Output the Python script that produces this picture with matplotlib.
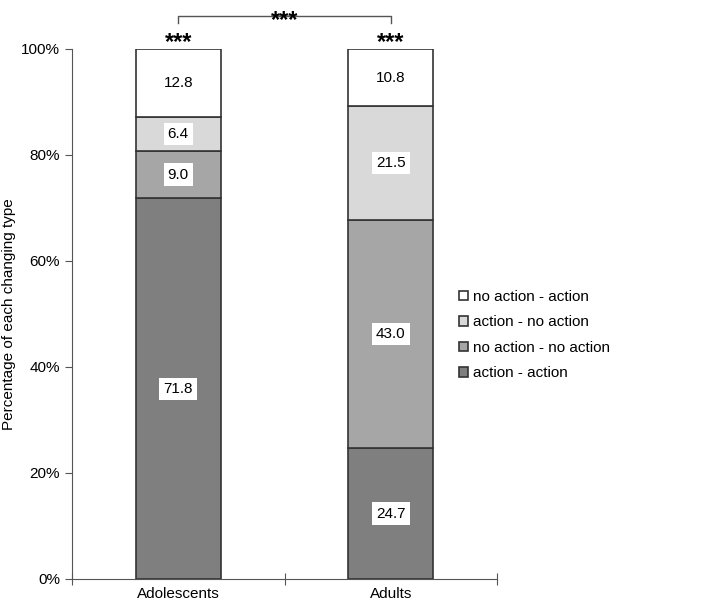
import matplotlib
matplotlib.use("Agg")
import matplotlib.pyplot as plt

groups = ["Adolescents", "Adults"]
series = ["action - action", "no action - no action", "action - no action", "no action - action"]
values = [
    [71.8, 24.7],
    [9.0, 43.0],
    [6.4, 21.5],
    [12.8, 10.8],
]
colors = ["#7f7f7f", "#a6a6a6", "#d9d9d9", "#ffffff"]

fig = plt.figure(figsize=(7.09, 6.04), dpi=100)
ax = fig.add_axes([0.1016, 0.0414, 0.5994, 0.8776])
plt.rcParams["font.family"] = "Liberation Sans"

x = list(range(len(groups)))
bottoms = [0.0] * len(groups)
handles = []
for name, vals, col in zip(series, values, colors):
    bars = ax.bar(x, vals, 0.4, bottom=bottoms, color=col, edgecolor="#333333", linewidth=1.2, label=name)
    handles.append(bars)
    for xi, b, v in zip(x, bottoms, vals):
        ax.text(xi, b + v / 2, f"{v:.1f}", ha="center", va="center", fontsize=11,
                family="Liberation Sans",
                bbox=dict(facecolor="white", edgecolor="none", pad=3))
    bottoms = [b + v for b, v in zip(bottoms, vals)]

ax.set_xlim(-0.5, 1.5)
ax.set_ylim(0, 100)
ax.set_yticks(range(0, 101, 20))
ax.set_yticklabels([f"{t}%" for t in range(0, 101, 20)], family="Liberation Sans", fontsize=11)
ax.set_xticks([-0.5, 0.5, 1.5], minor=False)
ax.set_xticklabels([])
ax.set_xticks(x, minor=True)
ax.set_xticklabels(groups, minor=True, family="Liberation Sans", fontsize=11)
ax.tick_params(axis="x", which="minor", length=0, pad=6)
ax.tick_params(axis="x", which="major", direction="inout", length=8, color="#555555")
ax.tick_params(axis="y", direction="out", length=5, color="#555555")
for s in ["top", "right"]:
    ax.spines[s].set_visible(False)
for s in ["left", "bottom"]:
    ax.spines[s].set_color("#555555")
ax.set_ylabel("Percentage of each changing type", family="Liberation Sans", fontsize=11)

for xi in x:
    ax.text(xi, 100.0, "***", ha="center", va="baseline", fontsize=17, fontweight="bold")
ax.plot([0, 0, 1, 1], [104.8, 106.2, 106.2, 104.8], color="#555555", lw=1, clip_on=False)
ax.text(0.5, 104.2, "***", ha="center", va="baseline", fontsize=17, fontweight="bold")

leg = fig.legend(handles[::-1], series[::-1], loc="center left", bbox_to_anchor=(0.628, 0.445),
                 frameon=False, prop={"family": "Liberation Sans", "size": 11},
                 handlelength=0.6, handleheight=0.6, handletextpad=0.3, labelspacing=0.75)

fig.savefig("out.png", dpi=100)
